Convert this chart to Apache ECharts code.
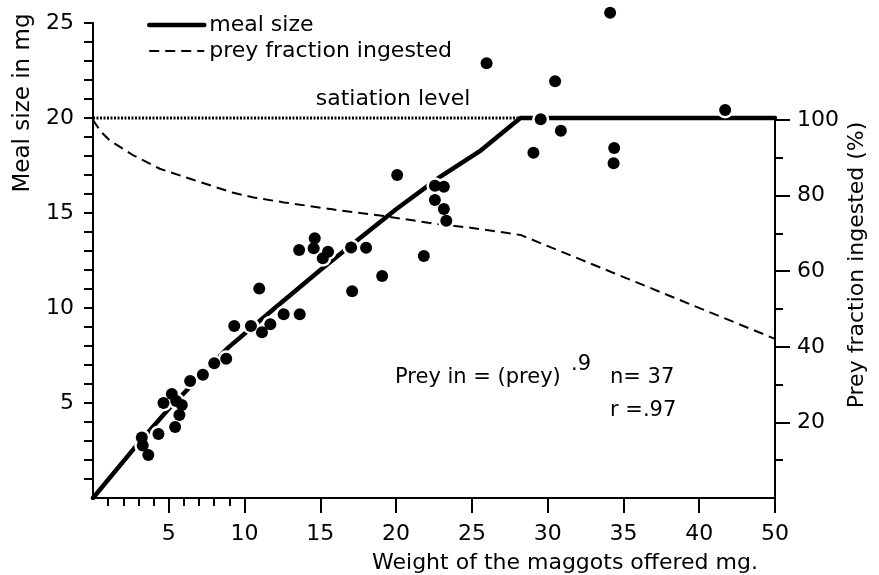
<!DOCTYPE html>
<html>
<head>
<meta charset="utf-8">
<script src="https://cdn.jsdelivr.net/npm/echarts@6/dist/echarts.min.js"></script>
<style>
  html, body { margin: 0; padding: 0; background: #fff; }
  #chart { width: 879px; height: 575px; }
</style>
</head>
<body>
<div id="chart"></div>
<script>
const FONT = 'DejaVu Sans';

// Individual meals: weight of maggots offered (mg) and meal size eaten (mg)
const offeredMg = [
  9.32, 10.42, 11.15, 11.70, 12.58, 13.64, 8.79, 8.00, 7.25, 6.41,
  5.20, 4.65, 5.49, 5.86, 5.70, 5.42, 4.32, 3.22, 3.28, 3.65,
  20.07, 22.56, 23.15, 22.56, 23.15, 23.31, 14.63, 14.56, 13.60, 15.51,
  15.16, 17.03, 18.02, 21.83, 19.08, 10.97, 17.10,
  34.12, 25.97, 30.49, 29.54, 30.87, 29.06, 34.39, 34.35, 41.71
];
const mealMg = [
  9.05, 9.05, 8.72, 9.14, 9.67, 9.67, 7.33, 7.09, 6.49, 6.16,
  5.47, 5.00, 5.10, 4.89, 4.37, 3.74, 3.37, 3.19, 2.76, 2.26,
  17.00, 16.44, 16.38, 15.68, 15.21, 14.59, 13.67, 13.14, 13.05, 12.96,
  12.62, 13.19, 13.17, 12.74, 11.68, 11.02, 10.88,
  25.54, 22.88, 21.93, 19.93, 19.33, 18.17, 18.42, 17.62, 20.42
];

// Meal-size curve, rising to the satiation level and staying there
const curveX = [0, 2.7, 5, 8.9, 12, 15, 17.5, 20, 22.9, 25.6, 28.2, 45];
const curveY = [0, 2.6, 4.7, 7.9, 10.0, 12.0, 13.6, 15.2, 16.9, 18.3, 20, 20];

// Satiation level (mg)
const satiationX = [0, 28.2];
const satiationY = [20, 20];

// Fraction of the offered prey that is ingested (%)
const fractionX = [0, 0.5, 1.1, 2.6, 4.4, 6.6, 9.2, 10.6, 12.6, 15.9, 19.2, 22.5, 24.9, 28.2, 45];
const fractionY = [100, 97.0, 94.6, 90.8, 87.1, 84.2, 80.8, 79.5, 78.2, 76.3, 74.6, 72.6, 71.5, 69.6, 42.1];

// Axis ticks and labels
const xTicks = [5, 10, 15, 20, 25, 30, 35, 40, 45];
const xTickLabels = ['5', '10', '15', '20', '25', '30', '35', '40', '50'];
const xMinorTicks = [1, 2, 3, 4, 6, 7, 8, 9];
const mealTicks = [1, 2, 3, 4, 5, 6, 7, 8, 9, 10, 11, 12, 13, 14, 15, 16, 17, 18, 19, 20, 21, 22, 23, 24, 25];
const mealLabels = [5, 10, 15, 20, 25];
const fractionMajor = [20, 40, 60, 80, 100];
const fractionMinor = [10, 30, 50, 70, 90];

const zip = (xs, ys) => xs.map((x, i) => [x, ys[i]]);
const BLACK = '#000';
const lineOn = () => ({ show: true, onZero: false, lineStyle: { color: BLACK, width: 2 } });
const lineOff = () => ({ show: false, onZero: false });
const tickStyle = { color: BLACK, width: 2 };

// Free text placed on the canvas (titles and annotations)
function text(str, x, y, size, opts) {
  opts = opts || {};
  return {
    type: 'text', x: x, y: y, z: 10, rotation: opts.rotation || 0,
    style: {
      text: str, fontSize: size, fontFamily: FONT, fill: BLACK,
      textAlign: opts.align || 'left', textVerticalAlign: 'middle'
    }
  };
}

const chart = echarts.init(document.getElementById('chart'), null, { renderer: 'canvas' });

chart.setOption({
  animation: false,
  backgroundColor: '#fff',
  textStyle: { fontFamily: FONT, color: BLACK },
  grid: [
    { left: 93, right: 104, top: 23, bottom: 77 },
    { left: 93, right: 104, top: 120, bottom: 77 }
  ],
  legend: {
    left: 142, top: 9, orient: 'vertical',
    itemWidth: 55, itemHeight: 2, itemGap: 4,
    itemStyle: { opacity: 0 },
    data: [
      { name: 'meal size', lineStyle: { width: 4.5 } },
      { name: 'prey fraction ingested', lineStyle: { width: 2 } }
    ],
    textStyle: { fontFamily: FONT, fontSize: 22, color: BLACK },
    selectedMode: false
  },
  xAxis: [
    {
      gridIndex: 0, type: 'value', min: 0, max: 45, position: 'bottom',
      axisLine: lineOn(),
      axisTick: { show: true, customValues: xTicks, length: 15, lineStyle: tickStyle },
      axisLabel: {
        customValues: xTicks, margin: 25, fontSize: 22, fontFamily: FONT, color: BLACK,
        formatter: v => xTickLabels[xTicks.indexOf(v)]
      },
      splitLine: { show: false }
    },
    {
      gridIndex: 0, type: 'value', min: 0, max: 45, position: 'bottom',
      axisLine: lineOff(),
      axisTick: { show: true, customValues: xMinorTicks, length: 8, lineStyle: tickStyle },
      axisLabel: { show: false },
      splitLine: { show: false }
    },
    { gridIndex: 1, type: 'value', min: 0, max: 45, show: false, axisLine: lineOff() }
  ],
  yAxis: [
    {
      gridIndex: 0, type: 'value', min: 0, max: 25, position: 'left',
      axisLine: lineOn(),
      axisTick: { show: true, customValues: mealTicks, length: 9, lineStyle: tickStyle },
      axisLabel: { customValues: mealLabels, margin: 19, fontSize: 22, fontFamily: FONT, color: BLACK },
      splitLine: { show: false }
    },
    {
      gridIndex: 1, type: 'value', min: 0, max: 100, position: 'right',
      axisLine: lineOn(),
      axisTick: { show: true, customValues: fractionMajor, length: 15, lineStyle: tickStyle },
      axisLabel: { customValues: fractionMajor, margin: 22, fontSize: 22, fontFamily: FONT, color: BLACK },
      splitLine: { show: false }
    },
    {
      gridIndex: 1, type: 'value', min: 0, max: 100, position: 'right',
      axisLine: lineOff(),
      axisTick: { show: true, customValues: fractionMinor, length: 8, lineStyle: tickStyle },
      axisLabel: { show: false },
      splitLine: { show: false }
    }
  ],
  series: [
    {
      name: 'meal size', type: 'line', xAxisIndex: 0, yAxisIndex: 0,
      data: zip(curveX, curveY), symbol: 'none', z: 2,
      lineStyle: { color: BLACK, width: 4.5, cap: 'round' }, itemStyle: { color: BLACK }
    },
    {
      name: 'satiation level', type: 'line', xAxisIndex: 0, yAxisIndex: 0,
      data: zip(satiationX, satiationY), symbol: 'none', z: 2,
      lineStyle: { color: BLACK, width: 3, type: [2, 1.5] }
    },
    {
      name: 'prey fraction ingested', type: 'line', xAxisIndex: 2, yAxisIndex: 1,
      data: zip(fractionX, fractionY), symbol: 'none', z: 2,
      lineStyle: { color: BLACK, width: 2, type: [10, 6] }, itemStyle: { color: BLACK }
    },
    {
      name: 'halo', type: 'scatter', xAxisIndex: 0, yAxisIndex: 0,
      data: zip(offeredMg, mealMg), symbolSize: 17, clip: false, z: 3, silent: true,
      itemStyle: { color: '#fff', opacity: 1 }
    },
    {
      name: 'meals', type: 'scatter', xAxisIndex: 0, yAxisIndex: 0,
      data: zip(offeredMg, mealMg), symbolSize: 12, clip: false, z: 4,
      itemStyle: { color: BLACK, opacity: 1 }
    }
  ],
  graphic: [
    text('satiation level', 393, 99, 22, { align: 'center' }),
    text('Meal size in mg', 23, 103, 23, { align: 'center', rotation: Math.PI / 2 }),
    text('Prey fraction ingested (%)', 857, 265, 22, { align: 'center', rotation: Math.PI / 2 }),
    text('Weight of the maggots offered mg.', 565, 563, 22, { align: 'center' }),
    text('Prey in = (prey)', 395, 378, 21),
    text('.9', 571, 365, 21),
    text('n= 37', 610, 378, 21),
    text('r =.97', 610, 411, 21)
  ]
});
</script>
</body>
</html>
